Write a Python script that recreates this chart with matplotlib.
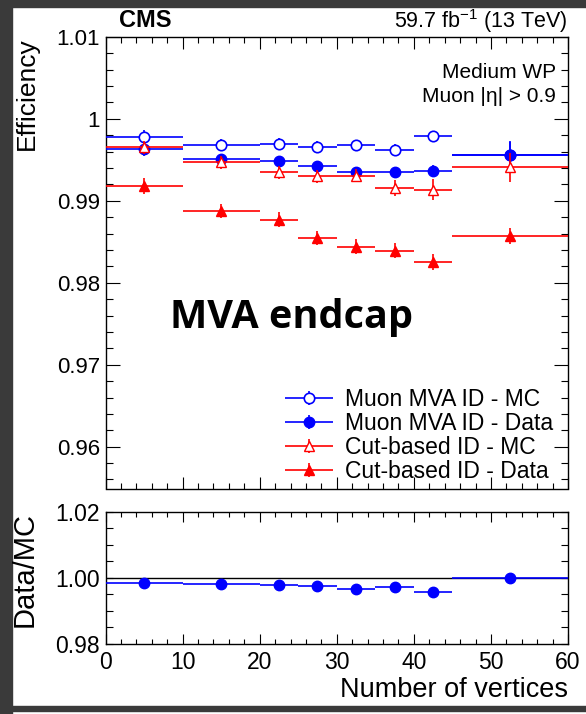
import numpy as np
import matplotlib.pyplot as plt
from matplotlib.ticker import MultipleLocator, FixedLocator, FuncFormatter
from matplotlib.patches import Rectangle
from matplotlib.legend_handler import HandlerErrorbar

plt.rcParams['font.family'] = ['Liberation Sans', 'DejaVu Sans']
plt.rcParams['mathtext.fontset'] = 'custom'
plt.rcParams['mathtext.rm'] = 'Liberation Sans'
plt.rcParams['mathtext.it'] = 'Liberation Sans:italic'

# binning in number of vertices
bin_lo = np.array([0, 10, 20, 25, 30, 35, 40, 45])
bin_hi = np.array([10, 20, 25, 30, 35, 40, 45, 60])

# efficiencies
mva_mc = np.array([0.99780, 0.99685, 0.99694, 0.99661, 0.99677, 0.99624, 0.99787, 0.99563])
mva_mc_err = np.array([0.0008, 0.0007, 0.0007, 0.0007, 0.0006, 0.0007, 0.0007, 0.0015])
mva_data = np.array([0.99630, 0.99506, 0.99483, 0.99419, 0.99348, 0.99351, 0.99365, 0.99563])
mva_data_err = np.array([0.0008, 0.0007, 0.0006, 0.0006, 0.0006, 0.0006, 0.0007, 0.0017])
cut_mc = np.array([0.99653, 0.99469, 0.99346, 0.99298, 0.99306, 0.99155, 0.99135, 0.99408])
cut_mc_err = np.array([0.0008, 0.0008, 0.0008, 0.0008, 0.0008, 0.0010, 0.0013, 0.0018])
cut_data = np.array([0.99180, 0.98874, 0.98771, 0.98547, 0.98441, 0.98392, 0.98253, 0.98568])
cut_data_err = np.array([0.0010, 0.0009, 0.0009, 0.0009, 0.0009, 0.0009, 0.0010, 0.0010])
ratio_err = np.array([0.0004, 0.0004, 0.0004, 0.0004, 0.0004, 0.0004, 0.0004, 0.0015])

x = (bin_lo + bin_hi) / 2.0
xerr = (bin_hi - bin_lo) / 2.0
ratio = mva_data / mva_mc

W, H = 586, 714
fig = plt.figure(figsize=(W / 100, H / 100), dpi=100)

# dark frame of the screenshot
fig.add_artist(Rectangle((0, 0), 12 / W, 1, transform=fig.transFigure, color='#3a3a3a', zorder=0))
fig.add_artist(Rectangle((0, 1 - 7 / H), 1, 7 / H, transform=fig.transFigure, color='#3a3a3a', zorder=0))
fig.add_artist(Rectangle((12 / W, 3 / H), 1, 5 / H, transform=fig.transFigure, color='#3a3a3a', zorder=0))

ax = fig.add_axes([105.5 / W, 1 - 488.5 / H, 462.5 / W, 451.7 / H])
ax2 = fig.add_axes([105.5 / W, 1 - 644 / H, 462.5 / W, 132.3 / H])

ms = 7.5
lw = 1.2
e1 = ax.errorbar(x, mva_mc, xerr=xerr, yerr=mva_mc_err, fmt='o', color='blue', mfc='white',
                 mec='blue', mew=1.2, ms=ms, elinewidth=lw, capsize=0, zorder=3)
e2 = ax.errorbar(x, mva_data, xerr=xerr, yerr=mva_data_err, fmt='o', color='blue', mfc='blue',
                 mec='blue', ms=ms, elinewidth=lw, capsize=0, zorder=4)
e3 = ax.errorbar(x, cut_mc, xerr=xerr, yerr=cut_mc_err, fmt='^', color='red', mfc='white',
                 mec='red', mew=1.0, ms=ms, elinewidth=lw, capsize=0, zorder=5)
e4 = ax.errorbar(x, cut_data, xerr=xerr, yerr=cut_data_err, fmt='^', color='red', mfc='red',
                 mec='red', ms=ms, elinewidth=lw, capsize=0, zorder=6)

ax.set_xlim(0, 60)
ax.set_ylim(0.9549, 1.01)
ax.yaxis.set_major_locator(FixedLocator([0.96, 0.97, 0.98, 0.99, 1.0, 1.01]))
ax.yaxis.set_minor_locator(MultipleLocator(0.002))
ax.yaxis.set_major_formatter(FuncFormatter(lambda v, p: '%g' % round(v, 3)))
ax.xaxis.set_major_locator(MultipleLocator(10))
ax.xaxis.set_minor_locator(MultipleLocator(2))
ax.tick_params(axis='x', which='both', labelbottom=False)
ax.tick_params(which='both', direction='in', top=True, right=True, width=0.8, labelsize=16, pad=4)
ax.tick_params(axis='y', which='major', length=10)
ax.tick_params(axis='y', which='minor', length=5)
ax.tick_params(axis='x', which='major', length=8.5)
ax.tick_params(axis='x', which='minor', length=4.3)
for s in ax.spines.values():
    s.set_linewidth(1.0)

ax.set_ylabel('Efficiency', loc='top', fontsize=19)
ax.yaxis.set_label_coords(-0.145, 1.0)

leg = ax.legend([e1, e2, e3, e4],
                ['Muon MVA ID - MC', 'Muon MVA ID - Data', 'Cut-based ID - MC', 'Cut-based ID - Data'],
                loc='upper left', bbox_to_anchor=(285 / W, 1 - 388 / H), bbox_transform=fig.transFigure,
                frameon=False, fontsize=16.5, handlelength=2.1, handletextpad=0.5, labelspacing=0.045,
                borderpad=0, borderaxespad=0,
                handler_map={type(e1): HandlerErrorbar(xerr_size=1.05, yerr_size=0.3)})

fig.text(119 / W, 1 - 27 / H, 'CMS', fontsize=17, fontweight='bold', va='baseline')
fig.text(568 / W, 1 - 28 / H, r'59.7 fb$^{-1}$ (13 TeV)', fontsize=15.5, ha='right', va='baseline')
fig.text(556 / W, 1 - 78 / H, 'Medium WP', fontsize=15, ha='right', va='baseline')
fig.text(556 / W, 1 - 102 / H, 'Muon |η| > 0.9', fontsize=15, ha='right', va='baseline')
fig.text(170 / W, 1 - 328 / H, 'MVA endcap', fontsize=28.5, fontweight='bold', va='baseline',
         family=['Open Sans', 'DejaVu Sans'])

# ratio panel
ax2.axhline(1.0, color='black', lw=1.0, zorder=2)
ax2.errorbar(x, ratio, xerr=xerr, yerr=ratio_err, fmt='o', color='blue', mfc='blue', mec='blue',
             ms=ms, elinewidth=lw, capsize=0, zorder=3)
ax2.set_xlim(0, 60)
ax2.set_ylim(0.98, 1.02)
ax2.yaxis.set_major_locator(FixedLocator([0.98, 1.0, 1.02]))
ax2.yaxis.set_minor_locator(MultipleLocator(0.005))
ax2.yaxis.set_major_formatter(FuncFormatter(lambda v, p: '%.2f' % v))
ax2.xaxis.set_major_locator(MultipleLocator(10))
ax2.xaxis.set_minor_locator(MultipleLocator(2))
ax2.tick_params(which='both', direction='in', top=True, right=True, width=0.8, labelsize=16.5)
ax2.tick_params(axis='y', which='both', length=5, pad=4)
ax2.tick_params(axis='x', which='major', length=7, pad=5)
ax2.tick_params(axis='x', which='minor', length=3.5)
for s in ax2.spines.values():
    s.set_linewidth(1.0)

ax2.set_ylabel('Data/MC', loc='top', fontsize=21)
ax2.yaxis.set_label_coords(-0.145, 1.0)
ax2.set_xlabel('Number of vertices', loc='right', fontsize=19.5)
ax2.xaxis.set_label_coords(1.0, -0.25)

fig.savefig('out.png', dpi=100)
